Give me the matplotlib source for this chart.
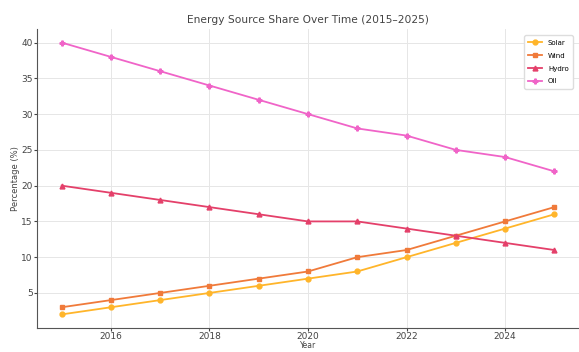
import matplotlib
matplotlib.use("Agg")
import matplotlib.pyplot as plt

years = [2015, 2016, 2017, 2018, 2019, 2020, 2021, 2022, 2023, 2024, 2025]
solar = [2, 3, 4, 5, 6, 7, 8, 10, 12, 14, 16]
wind = [3, 4, 5, 6, 7, 8, 10, 11, 13, 15, 17]
hydro = [20, 19, 18, 17, 16, 15, 15, 14, 13, 12, 11]
oil = [40, 38, 36, 34, 32, 30, 28, 27, 25, 24, 22]

fig = plt.figure(figsize=(5.79, 3.52), dpi=100)
ax = fig.add_axes([37 / 579, 24 / 352, 542 / 579, 299 / 352])

ax.plot(years, solar, marker='o', ms=3.5, lw=1.3, color='#FFB52A', label='Solar')
ax.plot(years, wind, marker='s', ms=3.5, lw=1.3, color='#F07A3A', label='Wind')
ax.plot(years, hydro, marker='^', ms=3.5, lw=1.3, color='#E4406A', label='Hydro')
ax.plot(years, oil, marker='P', ms=3.5, lw=1.3, color='#F064C8', label='Oil')

ax.set_xlim(2014.5, 2025.5)
ax.set_ylim(0.1, 41.9)
ax.set_xticks([2016, 2018, 2020, 2022, 2024])
ax.set_yticks([5, 10, 15, 20, 25, 30, 35, 40])
ax.tick_params(labelsize=6.5, colors='#444444', length=2, pad=1.2)
ax.grid(True, color='#e6e6e6', lw=0.7)
ax.set_axisbelow(True)
for s in ['top', 'right']:
    ax.spines[s].set_visible(False)
ax.spines['left'].set_color('#555555')
ax.spines['bottom'].set_color('#555555')

ax.set_title('Energy Source Share Over Time (2015–2025)', fontsize=7.7, color='#444444', pad=4)
ax.set_xlabel('Year', fontsize=5.5, color='#444444', labelpad=0)
ax.set_ylabel('Percentage (%)', fontsize=6, color='#444444', labelpad=1)
ax.legend(loc='upper right', fontsize=5, frameon=True, framealpha=1, edgecolor='#dddddd',
          handlelength=2, borderpad=0.6, labelspacing=1.0, bbox_to_anchor=(0.995, 0.99))

fig.savefig('out.png', dpi=100)
